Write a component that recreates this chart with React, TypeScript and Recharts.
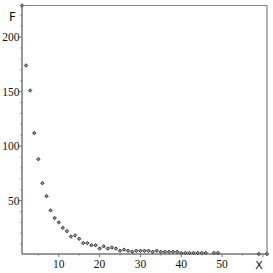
import { ScatterChart, Scatter, XAxis, YAxis, ReferenceLine } from "recharts";

// rank (X) and frequency (F)
const ranks = [
  1, 2, 3, 4, 5, 6, 7, 8, 9, 10, 11, 12, 13, 14, 15, 16, 17, 18, 19, 20,
  21, 22, 23, 24, 25, 26, 27, 28, 29, 30, 31, 32, 33, 34, 35, 36, 37, 38,
  39, 40, 41, 42, 43, 44, 45, 46, 48, 49, 59, 61,
];
const freqs = [
  229, 174, 151, 112, 88, 66, 54, 41, 34, 30, 25, 22, 17, 18, 15, 11, 11, 9,
  9, 6, 8, 6, 7, 6, 4, 5, 4, 3, 4, 4, 4, 4, 3, 4, 3, 3, 3, 3, 3, 2, 2, 2, 2,
  2, 2, 2, 2, 2, 1, 1,
];
const xTicks = [5, 10, 15, 20, 25, 30, 35, 40, 45, 50, 55, 60];
const yTicks = [10, 20, 30, 40, 50, 60, 70, 80, 90, 100, 110, 120, 130, 140, 150, 160, 170, 180, 190, 200, 210, 220];
const xDomain = [1, 61];
const yDomain = [1, 229];

const points = ranks.map((x, i) => ({ x, f: freqs[i] }));

const serif = "'Liberation Serif', 'DejaVu Serif', serif";
const sans = "'DejaVu Sans', 'Liberation Sans', sans-serif";

function YTick(props: any) {
  const { x, y, payload } = props;
  const v = payload.value;
  const major = v % 50 === 0;
  return (
    <g>
      <line x1={x - (major ? 3 : 1.5)} x2={x} y1={y} y2={y} stroke="#777" />
      {major && (
        <text x={x - 2.5} y={y} dy={4} textAnchor="end" fontFamily={serif} fontSize={11.5} fill="#111">
          {v}
        </text>
      )}
      {v === 220 && (
        <text x={12.5} y={y} dy={5.5} textAnchor="middle" fontFamily={sans} fontSize={12} fill="#111">
          F
        </text>
      )}
    </g>
  );
}

function XTick(props: any) {
  const { x, y, payload } = props;
  const v = payload.value;
  const major = v % 10 === 0;
  return (
    <g>
      <line x1={x} x2={x} y1={y} y2={y + (major ? 3 : 1.5)} stroke="#777" />
      {major && v < 60 && (
        <text x={x} y={y + 14} textAnchor="middle" fontFamily={serif} fontSize={11.5} fill="#111">
          {v}
        </text>
      )}
      {v === 60 && (
        <text x={x - 4} y={y + 15} textAnchor="middle" fontFamily={sans} fontSize={11} fill="#111">
          X
        </text>
      )}
    </g>
  );
}

function Dot(props: any) {
  const { cx, cy } = props;
  const s = 1.7;
  return (
    <path
      d={`M${cx},${cy - s}L${cx + s},${cy}L${cx},${cy + s}L${cx - s},${cy}Z`}
      fill="#999"
      stroke="#333"
      strokeWidth={1}
    />
  );
}

export default function App() {
  return (
    <div style={{ position: "absolute", left: 0, top: 0, width: 273, height: 273, background: "#fff" }}>
      <ScatterChart width={273} height={273} margin={{ top: 5.5, right: 6, bottom: 0, left: 0 }}>
        <XAxis
          dataKey="x"
          type="number"
          domain={xDomain}
          ticks={xTicks}
          interval={0}
          height={19}
          tickSize={0}
          tickMargin={0}
          tickLine={false}
          axisLine={{ stroke: "#333" }}
          tick={<XTick />}
        />
        <YAxis
          dataKey="f"
          type="number"
          domain={yDomain}
          ticks={yTicks}
          interval={0}
          width={22}
          tickSize={0}
          tickMargin={0}
          tickLine={false}
          axisLine={{ stroke: "#333" }}
          tick={<YTick />}
        />
        <ReferenceLine y={yDomain[1]} stroke="#888" />
        <ReferenceLine x={xDomain[1]} stroke="#666" />
        <Scatter data={points} shape={<Dot />} isAnimationActive={false} />
      </ScatterChart>
    </div>
  );
}
